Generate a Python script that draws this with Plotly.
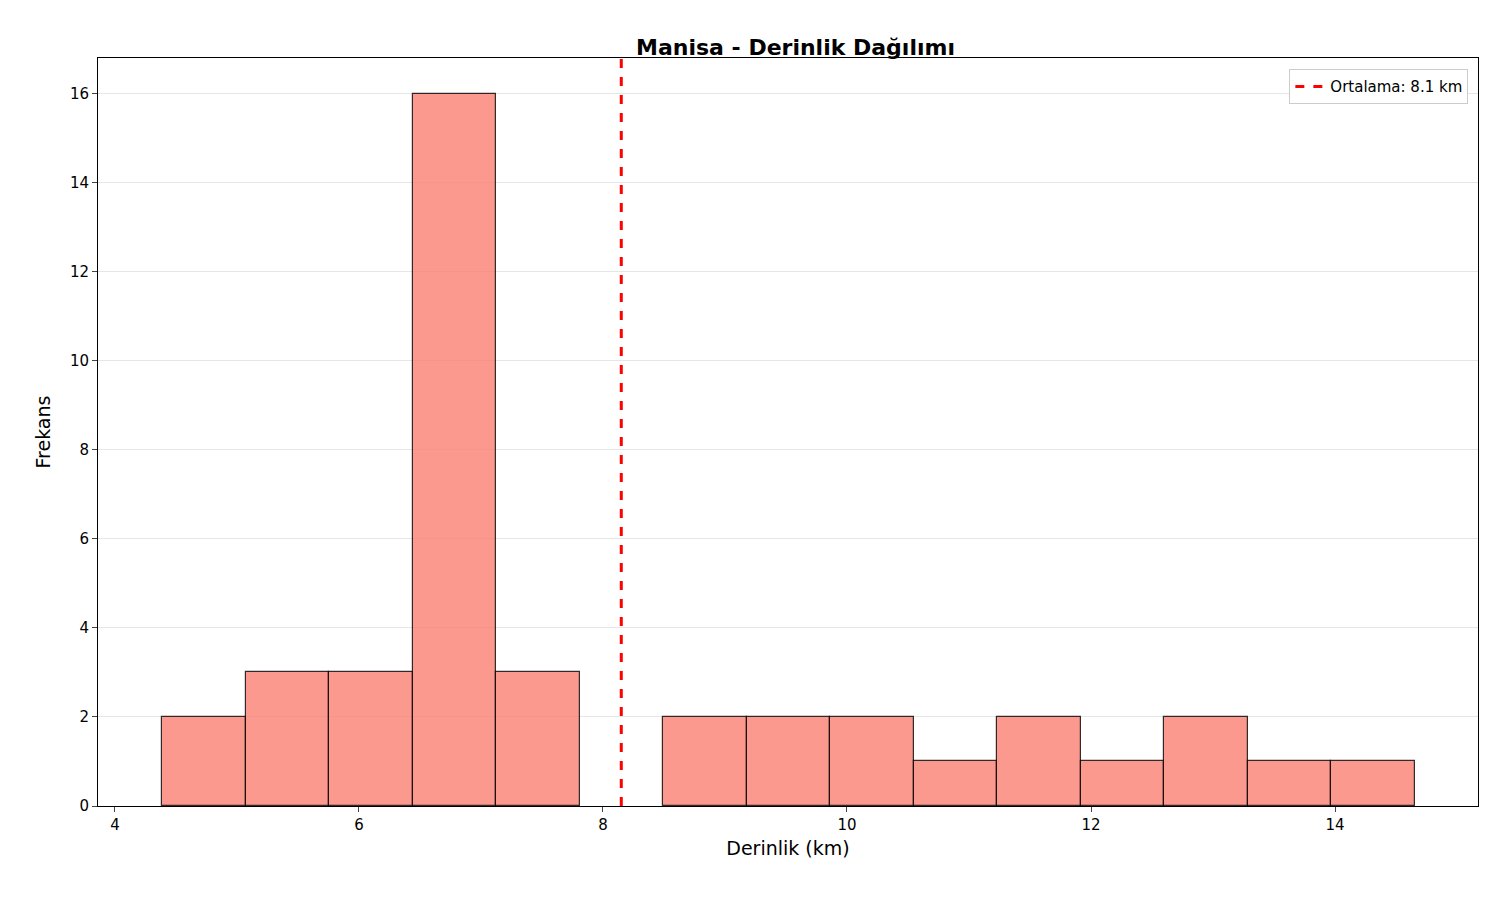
import plotly.graph_objects as go

# histogram of depths (km)
bin_edges = [4.385, 5.070, 5.754, 6.439, 7.124, 7.808, 8.493, 9.178, 9.862,
             10.547, 11.232, 11.916, 12.601, 13.286, 13.970, 14.655]
counts = [2, 3, 3, 16, 3, 0, 2, 2, 2, 1, 2, 1, 2, 1, 1]
mean_depth = 8.15
mean_label = "Ortalama: 8.1 km"

bins = [(a, b, c) for a, b, c in zip(bin_edges[:-1], bin_edges[1:], counts) if c > 0]
centers = [(a + b) / 2 for a, b, c in bins]
widths = [b - a for a, b, c in bins]
heights = [c for a, b, c in bins]

fig = go.Figure()
fig.add_trace(go.Bar(x=centers, y=heights, width=widths, showlegend=False,
                     marker=dict(color="rgba(250,128,114,0.8)",
                                 line=dict(color="rgba(0,0,0,0.8)", width=1.2))))
fig.add_trace(go.Scatter(x=[mean_depth, mean_depth], y=[0, 16.8], mode="lines",
                         name=mean_label, line=dict(color="red", width=3, dash="dash")))

fig.update_layout(
    width=1500, height=900, plot_bgcolor="white", paper_bgcolor="white",
    margin=dict(l=90, r=30, t=50, b=102),
    font=dict(family="DejaVu Sans", size=15, color="black"),
    title=dict(text="<b>Manisa - Derinlik Dağılımı</b>", x=0.525, xanchor="center",
               y=0.965, font=dict(size=22)),
    xaxis=dict(range=[3.861, 15.172], tickvals=[4, 6, 8, 10, 12, 14],
               showgrid=False, showline=True, mirror=True, linecolor="black",
               ticks="outside", zeroline=False,
               title=dict(text="Derinlik (km)", font=dict(size=19), standoff=8)),
    yaxis=dict(range=[0, 16.8], dtick=2, showgrid=True, gridcolor="#e6e6e6",
               showline=True, mirror=True, linecolor="black", ticks="outside",
               zeroline=False, title=dict(text="Frekans", font=dict(size=19), standoff=14)),
    legend=dict(x=0.993, y=0.985, xanchor="right", yanchor="top",
                bordercolor="#cccccc", borderwidth=1, bgcolor="white",
                font=dict(size=15)),
    bargap=0,
)
fig.write_html("out.html")
